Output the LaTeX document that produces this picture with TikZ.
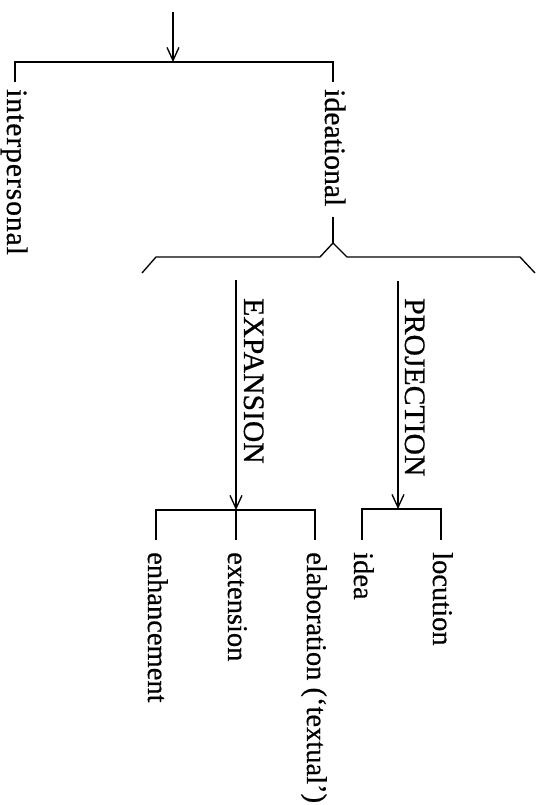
\documentclass[tikz,border=0pt]{standalone}
\usepackage{fontspec}
\setmainfont{Liberation Serif}[FakeBold=0.6]
\usetikzlibrary{arrows.meta}

\begin{document}
\begin{tikzpicture}[x=1pt, y=-1pt,
    wire/.style={line width=1.35pt, line join=miter},
    arr/.style={wire, -{Straight Barb[length=13pt, width=12pt, line width=1.35pt]}},
    lbl/.style={rotate=-90, anchor=base west, inner sep=0pt,
                font=\fontsize{28.5}{34}\selectfont},
    biglbl/.style={lbl, font=\fontsize{29.7}{35}\selectfont}]
  \useasboundingbox (0,0) rectangle (540,805);

  % labels, set sideways and read from top to bottom
  \node[biglbl] (inter) at (7,89)   {\addfontfeatures{LetterSpace=3}interpersonal};
  \node[biglbl] (ideat) at (325,89) {ideational};
  \node[biglbl] (expa)  at (244,298) {EXPANSION};
  \node[biglbl] (proj)  at (405,298) {PROJECTION};
  \node[lbl] (enh)   at (148,552) {enhancement};
  \node[lbl] (ext)   at (228,552) {extension};
  \node[lbl] (ela)   at (307,552) {elaboration (`textual')};
  \node[lbl] (idea)  at (354,552) {idea};
  \node[lbl] (loc)   at (433,552) {locution};

  % attachment points just above each label
  \foreach \n in {inter,ideat}
    \coordinate (\n T) at ([shift={(8pt,7pt)}]\n.base west);
  \foreach \n in {enh,ext,ela,idea,loc}
    \coordinate (\n T) at ([shift={(8pt,12pt)}]\n.base west);
  \coordinate (ideatB) at ([shift={(8pt,-10pt)}]ideat.base east);

  % entry into the first system
  \coordinate (entry) at (173,12);
  \coordinate (fork)  at (173,62);
  \draw[arr] (entry) -- (fork);
  \draw[wire] (interT) -- (interT |- fork) -- (ideatT |- fork) -- (ideatT);

  % brace below "ideational"
  \coordinate (apex) at (ideatB |- 0,243);
  \draw[wire] (ideatB) -- (apex);
  \draw[wire] (142,273) -- (156,257) -- (320,257) -- (apex)
              -- (347,257) -- (520,257) -- (535,273);

  % EXPANSION system
  \coordinate (exS) at (236,280);
  \coordinate (exJ) at (236,510);
  \draw[arr] (exS) -- (exJ);
  \draw[wire] (enhT) -- (enhT |- exJ) -- (elaT |- exJ) -- (elaT);
  \draw[wire] (exJ) -- (extT);

  % PROJECTION system
  \coordinate (prS) at (398,281);
  \coordinate (prJ) at (398,509);
  \draw[arr] (prS) -- (prJ);
  \draw[wire] (ideaT) -- (ideaT |- prJ) -- (locT |- prJ) -- (locT);
\end{tikzpicture}
\end{document}
